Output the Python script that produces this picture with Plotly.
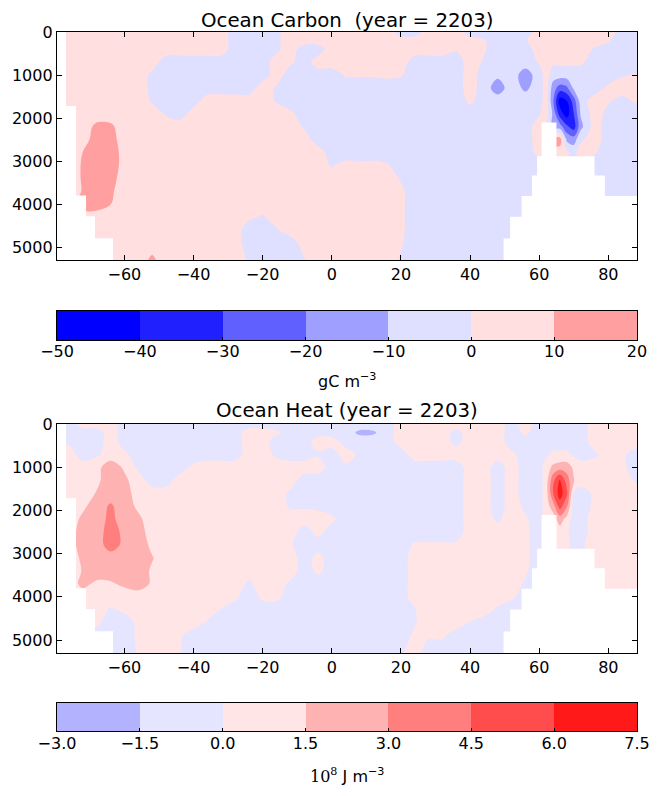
import plotly.graph_objects as go

# ---------------- data ----------------
lat = [-80, -76, -72, -68, -64, -60, -56, -52, -48, -44, -40, -36, -32, -28, -24, -20, -16, -12, -8, -4,
       0, 4, 8, 12, 16, 20, 24, 28, 32, 36, 40, 44, 48, 52, 56, 60, 62, 64, 66, 68, 70, 72, 76, 80, 84, 88.5]
depth = [0, 200, 400, 700, 1000, 1300, 1600, 1900, 2200, 2500, 2800, 3100, 3400, 3700, 4000, 4300, 4600, 4900, 5300]

# Ocean carbon anomaly, gC m-3 (rows = depth, columns = latitude)
carbon = [
 [5,5,5,5,5,5,5,5,5,5, 5,5,5,-5,-5,-5,-2,5,5,5, 5,5,5,5,5,-5,-5,5,5,5, -5,-5,-5,-5,-5,5,5,5,5,5, 5,5,5,5,-5,-5],
 [5,5,5,5,5,5,5,5,5,5, 5,5,5,-5,-5,-5,-2,5,5,5, 5,5,5,5,5,5,5,5,5,5, 5,1,-5,-5,-1,5,5,5,5,5, 5,5,5,1,-5,-5],
 [5,5,5,5,5,5,5,5,5,5, 5,5,5,-5,-5,-5,-2,5,-5,-5, 5,5,5,5,5,5,5,5,5,1, 5,1,-5,-5,-5,5,5,5,5,5, 5,5,-1,-5,-5,-5],
 [5,5,5,5,5,5,5,5,-5,-5, -5,-5,-5,-5,-5,-5,5,2,-5,5, 5,5,5,5,5,5,-5,-5,-5,-5, 5,-1,-5,-5,-5,1,2,2,2,2, 2,2,-5,-5,-5,-5],
 [5,5,5,5,5,5,5,-2,-5,-5, -5,-5,-5,-5,-5,-5,5,-5,-5,-5, -5,1,1,1,2,1,-5,-5,-5,-5, 5,-5,-8,-5,-15,-5,5,-5,-5,-5, -5,-5,-5,-5,-1,1],
 [5,5,5,5,5,5,5,-2,-5,-5, -5,-5,-5,-5,-5,5,-1,-5,-5,-5, -5,-5,-5,-5,-5,-5,-5,-5,-5,-5, 5,-5,-15,-5,-12,-5,5,-15,-25,-22, -8,-5,-5,2,5,5],
 [5,5,5,5,5,5,5,-1,-5,-5, -5,5,5,5,5,5,-1,-5,-5,-5, -5,-5,-5,-5,-5,-5,-5,-5,-5,-5, 2,-5,-5,-5,-5,-5,5,-18,-45,-40, -25,-5,5,1,-3,2],
 [5,5,5,5,5,5,5,5,-1,-5, 5,5,5,5,5,5,5,2,-5,-5, -5,-5,-5,-5,-5,-5,-5,-5,-5,-5, -5,-5,-5,-5,-5,-1,5,-12,-35,-45, -30,-9,5,-3,-5,-5],
 [5,5,5,12.4,11.9,5,5,5,5,5, 5,5,5,5,5,5,5,5,-1,-5, -5,-5,-5,-5,-5,-5,-5,-5,-5,-5, -5,-5,-5,-5,-5,5,5,-15,-15,-28, -35,-13,5,-5,-5,-5],
 [5,5,5,15.5,14.1,5,5,5,5,5, 5,5,5,5,5,5,5,5,5,-5, -5,-5,-5,-5,-5,-5,-5,-5,-5,-5, -5,-5,-5,-5,-5,5,5,15,15,-12, -15,-2,5,-5,-5,-5],
 [5,5,10.2,16,17.5,5,5,5,5,5, 5,5,5,5,5,5,5,5,5,5, -5,-5,-5,-5,-5,-5,-5,-5,-5,-5, -5,-5,-5,-5,-5,3,5,5,5,2, -3,5,1,-5,-5,-5],
 [5,5,11,16,17.5,5,5,5,5,5, 5,5,5,5,5,5,5,5,5,5, -1,3,2,3,1,-5,-5,-5,-5,-5, -5,-5,-5,-5,-5,-5,-5,-5,-5,-5, -5,-5,-5,-5,-5,-5],
 [5,5,11,16,14.1,5,5,5,5,5, 5,5,5,5,5,5,5,5,5,5, 5,5,5,5,5,-1,-5,-5,-5,-5, -5,-5,-5,-5,-5,-5,-5,-5,-5,-5, -5,-5,-5,-5,-5,-5],
 [5,5,10.7,15,11.7,5,5,5,5,5, 5,5,5,5,5,5,5,5,5,5, 5,5,5,5,5,2,-5,-5,-5,-5, -5,-5,-5,-5,-5,-5,-5,-5,-5,-5, -5,-5,-5,-5,-5,-5],
 [5,5,15,15,10.2,5,5,5,5,5, 5,5,5,5,5,5,5,5,5,5, 5,5,5,5,5,2,-5,-5,-5,-5, -5,-5,-5,-5,-5,-5,-5,-5,-5,-5, -5,-5,-5,-5,-5,-5],
 [5,5,5,5,5,5,5,5,5,5, 5,5,5,5,2,-1,5,5,5,5, 5,5,5,5,5,2,-5,-5,-5,-5, -5,-5,-5,-5,-5,-5,-5,-5,-5,-5, -5,-5,-5,-5,-5,-5],
 [5,5,5,5,5,5,5,5,5,5, 5,5,5,5,-5,-5,-1,5,5,5, 5,5,5,5,5,2,-5,-5,-5,-5, -5,-5,-5,-5,-5,-5,-5,-5,-5,-5, -5,-5,-5,-5,-5,-5],
 [5,5,5,5,5,5,5,5,5,5, 5,5,5,5,-5,-5,-5,-5,5,5, 5,5,5,5,5,1,-5,-5,-5,-5, -5,-5,-5,-5,-5,-5,-5,-5,-5,-5, -5,-5,-5,-5,-5,-5],
 [5,5,5,5,5,5,5,12,5,5, 5,5,5,5,-1,-5,-5,-5,-1,5, 5,5,5,5,5,-1,-5,-5,-5,-5, -5,-5,-5,-5,-5,-5,-5,-5,-5,-5, -5,-5,-5,-5,-5,-5],
]

# Ocean heat anomaly, 10^8 J m-3 (rows = depth, columns = latitude)
heat = [
 [-.75,-.75,.75,.75,.75,-.75,-.75,-.75,-.75,-.75, -.75,-.75,-.75,-.75,-.75,-.75,-.75,-.75,-.75,-.75, -.75,-.75,-.75,-.75,-.75,.75,.75,.75,.75,.75, .75,.75,.75,-.75,.75,-.75,-.75,-.75,-.75,-.75, -.75,-.75,.75,.75,.75,.75],
 [-.75,-.75,-.75,-.75,.75,-.75,-.75,-.75,-.75,-.75, -.75,-.75,-.75,-.75,.75,.75,.3,-.75,-.75,-.75, -.75,-.75,-1.8,-1.7,-.75,.75,.75,.75,.75,-.5, .75,.75,.75,-.75,.3,-.75,-.75,-.75,-.75,-.75, -.75,-.75,.75,.75,.75,.75],
 [-.3,-.3,-.75,-.75,.75,-.75,-.75,-.75,-.75,-.75, -.75,-.75,-.75,-.75,.75,.75,-.75,-.75,-.75,.75, .75,-.75,-.75,-.75,-.75,.75,.75,.75,.75,-.5, .75,.75,.75,-.75,-.75,-.75,-.75,-.75,-.75,-.75, -.75,-.75,.75,.75,.75,.75],
 [.75,.75,-.75,-.3,.75,.3,-.75,-.75,-.75,-.75, -.75,-.75,-.75,-.75,.75,.75,-.3,-.75,-.75,-.2, -.75,.75,-.3,-.75,-.75,-.75,.75,.75,.75,.75, .75,.75,.75,.3,-.75,-.75,-.3,.3,.3,.3, -.3,-.75,-.3,.75,.3,-.75],
 [.75,.75,.75,1.1,2.25,1.3,-.3,-.75,-.75,-.75, .3,.75,.75,.75,.75,.75,.75,.75,.75,.75, -.75,-.3,-.75,-.75,-.75,-.75,-.75,-.75,-.75,-.75, .75,.75,-.75,.75,-.75,-.75,.75,1.8,2.25,2.25, 1.2,.75,.75,.75,.3,-.75],
 [.75,.75,.75,1.2,2.25,1.8,.75,-.75,-.75,.75, .75,.75,.75,.75,.75,.75,.75,.75,-.75,-.75, -.75,-.75,-.75,-.75,-.75,-.75,-.75,-.75,-.75,-.75, .75,.75,-.75,.75,-.75,-.75,.75,4.0,6.2,3.75, 1.6,.75,.75,.75,.75,-.3],
 [.75,.75,.75,1.6,2.25,2.25,.75,.75,.75,.75, .75,.75,.75,.75,.75,.75,.75,-.3,-.75,-.75, -.75,-.75,-.75,-.75,-.75,-.75,-.75,-.75,-.75,-.75, .75,.75,-.75,.75,-.75,-.75,.75,4.4,6.75,4.8, -.3,-.75,.3,.75,.75,.75],
 [.75,.75,1.2,2.25,3.2,2.25,1.2,.75,.75,.75, .75,.75,.75,.75,.75,.75,.75,-.2,-.2,-.4, -.75,-.75,-.75,-.75,-.75,-.75,-.75,-.75,-.75,-.75, .75,.75,-.75,.75,-.3,-.75,.75,2.25,5.25,3.2, -.75,-.75,.3,.75,.75,.75],
 [.75,.75,1.8,2.25,3.4,2.25,1.8,.75,.75,.75, .75,.75,.75,.75,.75,.75,.75,.75,.75,.75, .3,-.75,-.75,-.75,-.75,-.75,-.75,-.75,-.75,-.75, .75,.75,-.3,.75,.2,-.75,.75,.75,2.25,1.0, -.75,-.75,.75,.75,.75,.75],
 [.75,.75,2.25,2.25,3.75,2.6,2.25,.75,.75,.75, .75,.75,.75,.75,.75,.75,.75,.75,-.75,.5, -.75,-.75,-.75,-.75,-.75,-.75,-.75,-.75,-.75,-.75, .75,.75,.75,.75,.3,-.75,-.75,.75,.75,.3, -.75,-.75,.75,.75,.75,.75],
 [.75,.75,2.25,2.25,3.75,2.6,2.25,1.2,.75,.75, .75,.75,.75,.75,.75,.75,.75,.2,-.75,-.75, -.75,-.75,-.75,-.75,-.75,-.75,.2,.2,.2,.3, .75,.75,.75,.75,.3,-.75,-.75,.75,.75,.75, -.75,-.3,.75,.75,.75,.75],
 [.75,.75,1.8,2.25,2.25,2.25,2.25,1.6,.75,.75, .75,.75,.75,.75,.75,.75,.75,.75,-.75,.5, -.75,-.75,-.75,-.75,-.75,-.75,.75,.75,.75,.75, .75,.75,.75,.75,.3,-.75,-.75,-.75,-.75,-.75, -.75,-.75,.75,.75,.75,.75],
 [.75,.75,1.6,2.25,2.25,2.25,2.25,1.3,.75,.75, .75,.75,.75,.75,.75,.75,.75,.75,-.75,.3, -.75,-.75,-.75,-.75,-.75,-.75,.75,.75,.75,.75, .75,.75,.75,.75,.2,-.75,-.75,-.75,-.75,-.75, -.75,-.75,.75,.75,.75,.75],
 [.75,.75,1.9,1.2,1.3,1.8,2.25,1.3,.75,.75, .75,.75,.75,.75,-.3,.75,.75,-.3,-.75,-.75, -.75,-.75,-.75,-.75,-.75,-.75,.75,.75,.75,.75, .75,.75,.75,.75,-.2,-.75,-.75,-.75,-.75,-.75, -.75,-.75,.75,.75,.75,.75],
 [.75,.75,.75,.75,.75,.75,.75,.75,.75,.75, .75,.75,.75,.3,-.75,.3,.4,-.75,-.75,-.75, -.75,-.75,-.75,-.75,-.75,-.75,.75,.75,.75,.75, .75,.75,.75,.3,-.75,-.75,-.75,-.75,-.75,-.75, -.75,-.75,.75,.75,.75,.75],
 [.75,.75,.75,.75,-.2,.3,.75,.75,.75,.75, .75,.75,-.1,-.75,-.75,-.75,-.75,-.75,-.75,-.75, -.75,-.75,-.75,-.75,-.75,-.75,-.1,.75,.75,.75, .75,.75,-.3,-.75,-.75,-.75,-.75,-.75,-.75,-.75, -.75,-.75,-.75,-.75,-.75,-.75],
 [.75,.75,.75,.3,-.75,-.75,.3,.75,.75,.75, .75,-.2,-.75,-.75,-.75,-.75,-.75,-.75,-.75,-.75, -.75,-.75,-.75,-.75,-.75,-.75,-.1,.75,.75,.75, -.1,-.75,-.75,-.75,-.75,-.75,-.75,-.75,-.75,-.75, -.75,-.75,-.75,-.75,-.75,-.75],
 [-.75,-.75,-.75,-.75,-.75,-.75,.3,.75,.75,.2, -.75,-.75,-.75,-.75,-.75,-.75,-.75,-.75,-.75,-.75, -.75,-.75,-.75,-.75,-.75,-.75,.3,.2,.2,-.75, -.75,-.75,-.75,-.75,-.75,-.75,-.75,-.75,-.75,-.75, -.75,-.75,-.75,-.75,-.75,-.75],
 [-.75,-.75,-.75,-.75,-.75,-.75,.1,.75,.75,.1, -.75,-.75,-.75,-.75,-.75,-.75,-.75,-.75,-.75,-.75, -.75,-.75,-.75,-.75,-.75,-.2,.75,-.75,-.75,-.75, -.75,-.75,-.75,-.75,-.75,-.75,-.75,-.75,-.75,-.75, -.75,-.75,-.75,-.75,-.75,-.75],
]

# sea floor: latitude edges of segments and floor depth of each segment (5400 = below plotted range)
floor_lat_edges = [-80, -76.9, -74.0, -71.1, -68.5, -63.3, 49.7, 51.6, 54.9, 57.9, 59.4, 60.7, 65.0, 76.0, 79.0, 89]
floor_depth = [0, 1719, 3800, 4285, 4794, 5400, 4801, 4293, 3815, 3337, 2890, 2104, 2890, 3337, 3815]

carbon_levels = [-50, -40, -30, -20, -10, 0, 10, 20]
heat_levels = [-3.0, -1.5, 0.0, 1.5, 3.0, 4.5, 6.0, 7.5]
carbon_colors = ['#0000ff', '#0000ff', '#2020ff', '#6060ff', '#9f9fff', '#dfdfff', '#ffdfdf', '#ff9f9f', '#ff6060']
heat_colors = ['#b2b2ff', '#b2b2ff', '#e5e5ff', '#ffe5e5', '#ffb2b2', '#ff7f7f', '#ff4c4c', '#ff1919', '#ff0000']
lat_ticks = [-60, -40, -20, 0, 20, 40, 60, 80]
depth_ticks = [0, 1000, 2000, 3000, 4000, 5000]

# ---------------- figure ----------------
# the page places the plot 8 px from the window's top-left corner
OFF = 8
W, H = 659 - OFF, 796 - OFF
def px_x(a, b):
    return [(a - OFF) / W, (b - OFF) / W]
def px_y(top, bottom):
    return [1 - (bottom - OFF) / H, 1 - (top - OFF) / H]

def scale(colors):
    n = len(colors) - 1
    return [[k / n, c] for k, c in enumerate(colors)]

fig = go.Figure()

def add_field(z, levels, colors, xa, ya):
    step = levels[1] - levels[0]
    fig.add_trace(go.Contour(
        x=lat, y=depth, z=z, autocontour=False,
        contours=dict(start=levels[0], end=levels[-1], size=step, coloring='fill', showlines=False),
        colorscale=scale(colors), showscale=False, line=dict(width=0, smoothing=1),
        hoverinfo='skip', xaxis=xa, yaxis=ya))
    xs, ys = [floor_lat_edges[0]], [5400]
    for i, d in enumerate(floor_depth):
        xs += [floor_lat_edges[i], floor_lat_edges[i + 1]]
        ys += [d, d]
    xs.append(floor_lat_edges[-1]); ys.append(5400)
    fig.add_trace(go.Scatter(x=xs, y=ys, mode='lines', fill='toself', fillcolor='white',
                             line=dict(width=0, color='white'), hoverinfo='skip', xaxis=xa, yaxis=ya))

def add_bar(levels, colors, xa, ya):
    step = levels[1] - levels[0]
    mids = [(a + b) / 2 for a, b in zip(levels[:-1], levels[1:])]
    fig.add_trace(go.Heatmap(x=levels, y=[0, 1], z=[mids], zmin=levels[0] - step / 2,
                             zmax=levels[-1] + step / 2, colorscale=scale(colors),
                             showscale=False, hoverinfo='skip', xaxis=xa, yaxis=ya))

add_field(carbon, carbon_levels, carbon_colors, 'x', 'y')
add_field(heat, heat_levels, heat_colors, 'x2', 'y2')
add_bar(carbon_levels, carbon_colors, 'x3', 'y3')
add_bar(heat_levels, heat_colors, 'x4', 'y4')

xdom = px_x(57, 637)
ax = dict(showline=True, linecolor='black', linewidth=1.3, mirror='allticks', ticks='inside',
          ticklen=5, tickwidth=1, tickcolor='black', showgrid=False, zeroline=False, automargin=False,
          tickfont=dict(size=16, color='black'))
fig.update_layout(
    template='none',
    width=W, height=H, margin=dict(l=0, r=0, t=0, b=0, autoexpand=False),
    paper_bgcolor='white', plot_bgcolor='white', showlegend=False,
    font=dict(family='DejaVu Sans', size=16, color='black'),
    xaxis=dict(ax, domain=xdom, range=[-79.5, 88.3], tickvals=lat_ticks, anchor='y'),
    yaxis=dict(ax, domain=px_y(32, 260), range=[5300, 0], tickvals=depth_ticks, tickformat='d', anchor='x'),
    xaxis2=dict(ax, domain=xdom, range=[-79.5, 88.3], tickvals=lat_ticks, anchor='y2'),
    yaxis2=dict(ax, domain=px_y(424, 653), range=[5300, 0], tickvals=depth_ticks, tickformat='d', anchor='x2'),
    xaxis3=dict(ax, domain=xdom, range=[carbon_levels[0], carbon_levels[-1]], tickvals=carbon_levels,
                mirror=True, ticklen=3, ticklabelstandoff=-3, anchor='y3'),
    yaxis3=dict(ax, domain=px_y(311, 340), range=[0, 1], mirror=True, ticks='', showticklabels=False, anchor='x3'),
    xaxis4=dict(ax, domain=xdom, range=[heat_levels[0], heat_levels[-1]], tickvals=heat_levels,
                tickformat='.1f', mirror=True, ticklen=3, ticklabelstandoff=-2, anchor='y4'),
    yaxis4=dict(ax, domain=px_y(703, 731), range=[0, 1], mirror=True, ticks='', showticklabels=False, anchor='x4'),
)

cx = ((57 + 637) / 2 - OFF) / W
def label(text, ypx, size):
    fig.add_annotation(x=cx, y=1 - (ypx - OFF) / H, xref='paper', yref='paper', text=text, showarrow=False,
                       xanchor='center', yanchor='middle', font=dict(size=size, color='black', family='DejaVu Sans'))

label('Ocean Carbon \u00a0(year = 2203)', 20, 19.8)
label('Ocean Heat (year = 2203)', 411, 19.8)
label('gC m<sup>\u22123</sup>', 380, 16)
label('<span style="font-family:DejaVu Serif">10<sup>8</sup></span> J m<sup>\u22123</sup>', 775, 16)

fig.write_html('out.html')
